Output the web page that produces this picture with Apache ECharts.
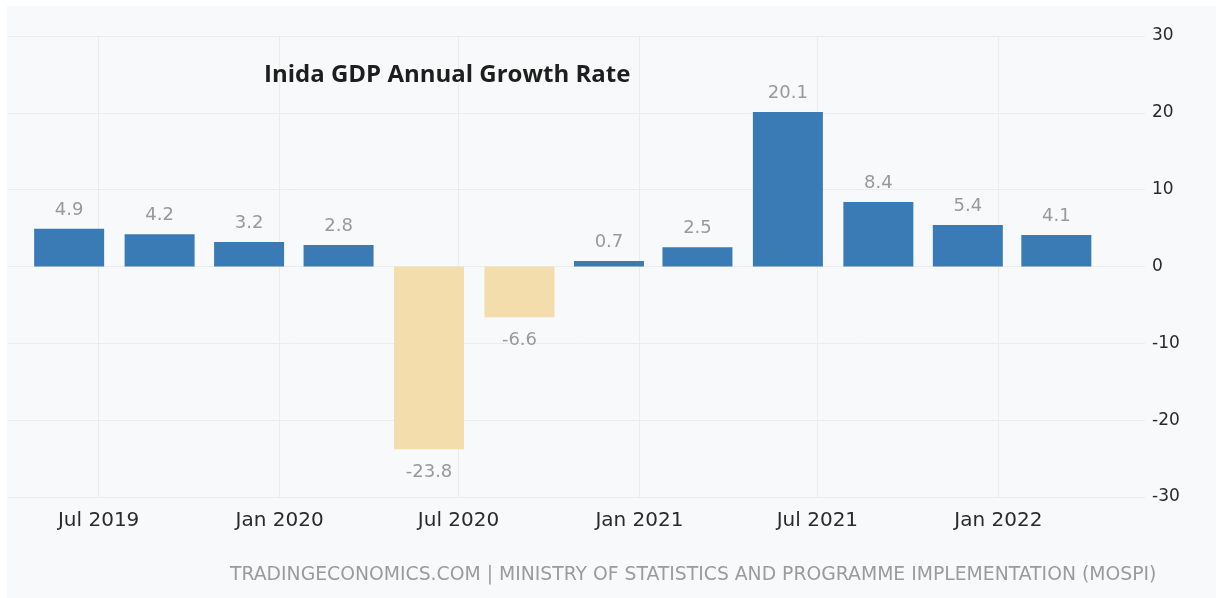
<!DOCTYPE html>
<html>
<head>
<meta charset="utf-8">
<title>India GDP Annual Growth Rate</title>
<script src="https://cdn.jsdelivr.net/npm/echarts@6/dist/echarts.min.js"></script>
<style>
  html, body { margin: 0; padding: 0; background: #ffffff; }
  #chart { width: 1216px; height: 598px; }
</style>
</head>
<body>
<div id="chart"></div>
<script>
// Quarterly GDP year-on-year growth, India (%)
const quarterDates = [
  '2019-06-01', '2019-09-01', '2019-12-01', '2020-03-01',
  '2020-06-01', '2020-09-01', '2020-12-01', '2021-03-01',
  '2021-06-01', '2021-09-01', '2021-12-01', '2022-03-01'
];
const growthValues = [4.9, 4.2, 3.2, 2.8, -23.8, -6.6, 0.7, 2.5, 20.1, 8.4, 5.4, 4.1];
const monthNames = ['Jan', 'Feb', 'Mar', 'Apr', 'May', 'Jun', 'Jul', 'Aug', 'Sep', 'Oct', 'Nov', 'Dec'];
const yTicks = { min: -30, max: 30, step: 10 };

const titleText = 'Inida GDP Annual Growth Rate';
const sourceText = 'TRADINGECONOMICS.COM | MINISTRY OF STATISTICS AND PROGRAMME IMPLEMENTATION (MOSPI)';

const POS_COLOR = '#3a7bb5';
const NEG_COLOR = '#f3ddad';
const AXIS_FONT = 'DejaVu Sans';

const GRID = { left: 8, right: 71, top: 36, bottom: 101 };
const PLOT_WIDTH = 1216 - GRID.left - GRID.right;
const BAR_WIDTH = 70;

function toDate(s) {
  const p = s.split('-').map(Number);
  return new Date(p[0], p[1] - 1, p[2]).getTime();
}

// Visible date window of the plot. The axis widens its extent by half a bar
// on each side, so the requested min/max are pulled in to compensate.
const viewStart = toDate('2019-04-02');
const viewEnd = toDate('2022-05-28');
const viewSpan = viewEnd - viewStart;
const innerSpan = viewSpan / (1 + BAR_WIDTH / PLOT_WIDTH);
const edgePad = (viewSpan - innerSpan) / 2;

const barData = quarterDates.map((d, i) => {
  const v = growthValues[i];
  return {
    value: [toDate(d), v],
    itemStyle: { color: v < 0 ? NEG_COLOR : POS_COLOR },
    label: v < 0 ? { position: 'bottom', distance: 14 } : { position: 'top', distance: 10 }
  };
});

const chart = echarts.init(document.getElementById('chart'), null, { renderer: 'canvas' });

chart.setOption({
  backgroundColor: '#ffffff',
  animation: false,
  graphic: [{
    type: 'rect',
    z: -10,
    silent: true,
    shape: { x: 7, y: 6, width: 1216, height: 598 },
    style: { fill: '#f8f9fa' }
  }],
  title: [{
    text: titleText,
    left: 264,
    top: 63,
    padding: 0,
    textStyle: {
      fontFamily: 'Open Sans',
      fontWeight: 'bold',
      fontSize: 24,
      color: '#1e1e1e'
    }
  }, {
    text: sourceText,
    left: 230,
    top: 566,
    padding: 0,
    textStyle: {
      fontFamily: AXIS_FONT,
      fontWeight: 'normal',
      fontSize: 18.8,
      color: '#9b9b9b'
    }
  }],
  grid: {
    left: GRID.left,
    right: GRID.right,
    top: GRID.top,
    bottom: GRID.bottom,
    containLabel: false
  },
  xAxis: {
    type: 'time',
    min: viewStart + edgePad,
    max: viewEnd - edgePad,
    minInterval: 182 * 24 * 3600 * 1000,
    maxInterval: 184 * 24 * 3600 * 1000,
    axisLine: { show: false },
    axisTick: { show: false },
    splitLine: {
      show: true,
      showMinLine: false,
      showMaxLine: false,
      lineStyle: { color: '#ececec', width: 1 }
    },
    axisLabel: {
      showMinLabel: false,
      showMaxLabel: false,
      margin: 14,
      fontFamily: AXIS_FONT,
      fontSize: 20,
      color: '#2a2a2a',
      formatter: function (val) {
        const d = new Date(val);
        return monthNames[d.getMonth()] + ' ' + d.getFullYear();
      }
    }
  },
  yAxis: {
    type: 'value',
    position: 'right',
    min: yTicks.min,
    max: yTicks.max,
    interval: yTicks.step,
    axisLine: { show: false },
    axisTick: { show: false },
    splitLine: { show: true, lineStyle: { color: '#ececec', width: 1 } },
    axisLabel: {
      margin: 7,
      fontFamily: AXIS_FONT,
      fontSize: 17,
      color: '#2a2a2a'
    }
  },
  series: [{
    type: 'bar',
    barWidth: BAR_WIDTH,
    data: barData,
    label: {
      show: true,
      fontFamily: AXIS_FONT,
      fontSize: 18,
      color: '#999999',
      formatter: function (p) { return p.value[1].toFixed(1); }
    }
  }]
});
</script>
</body>
</html>
